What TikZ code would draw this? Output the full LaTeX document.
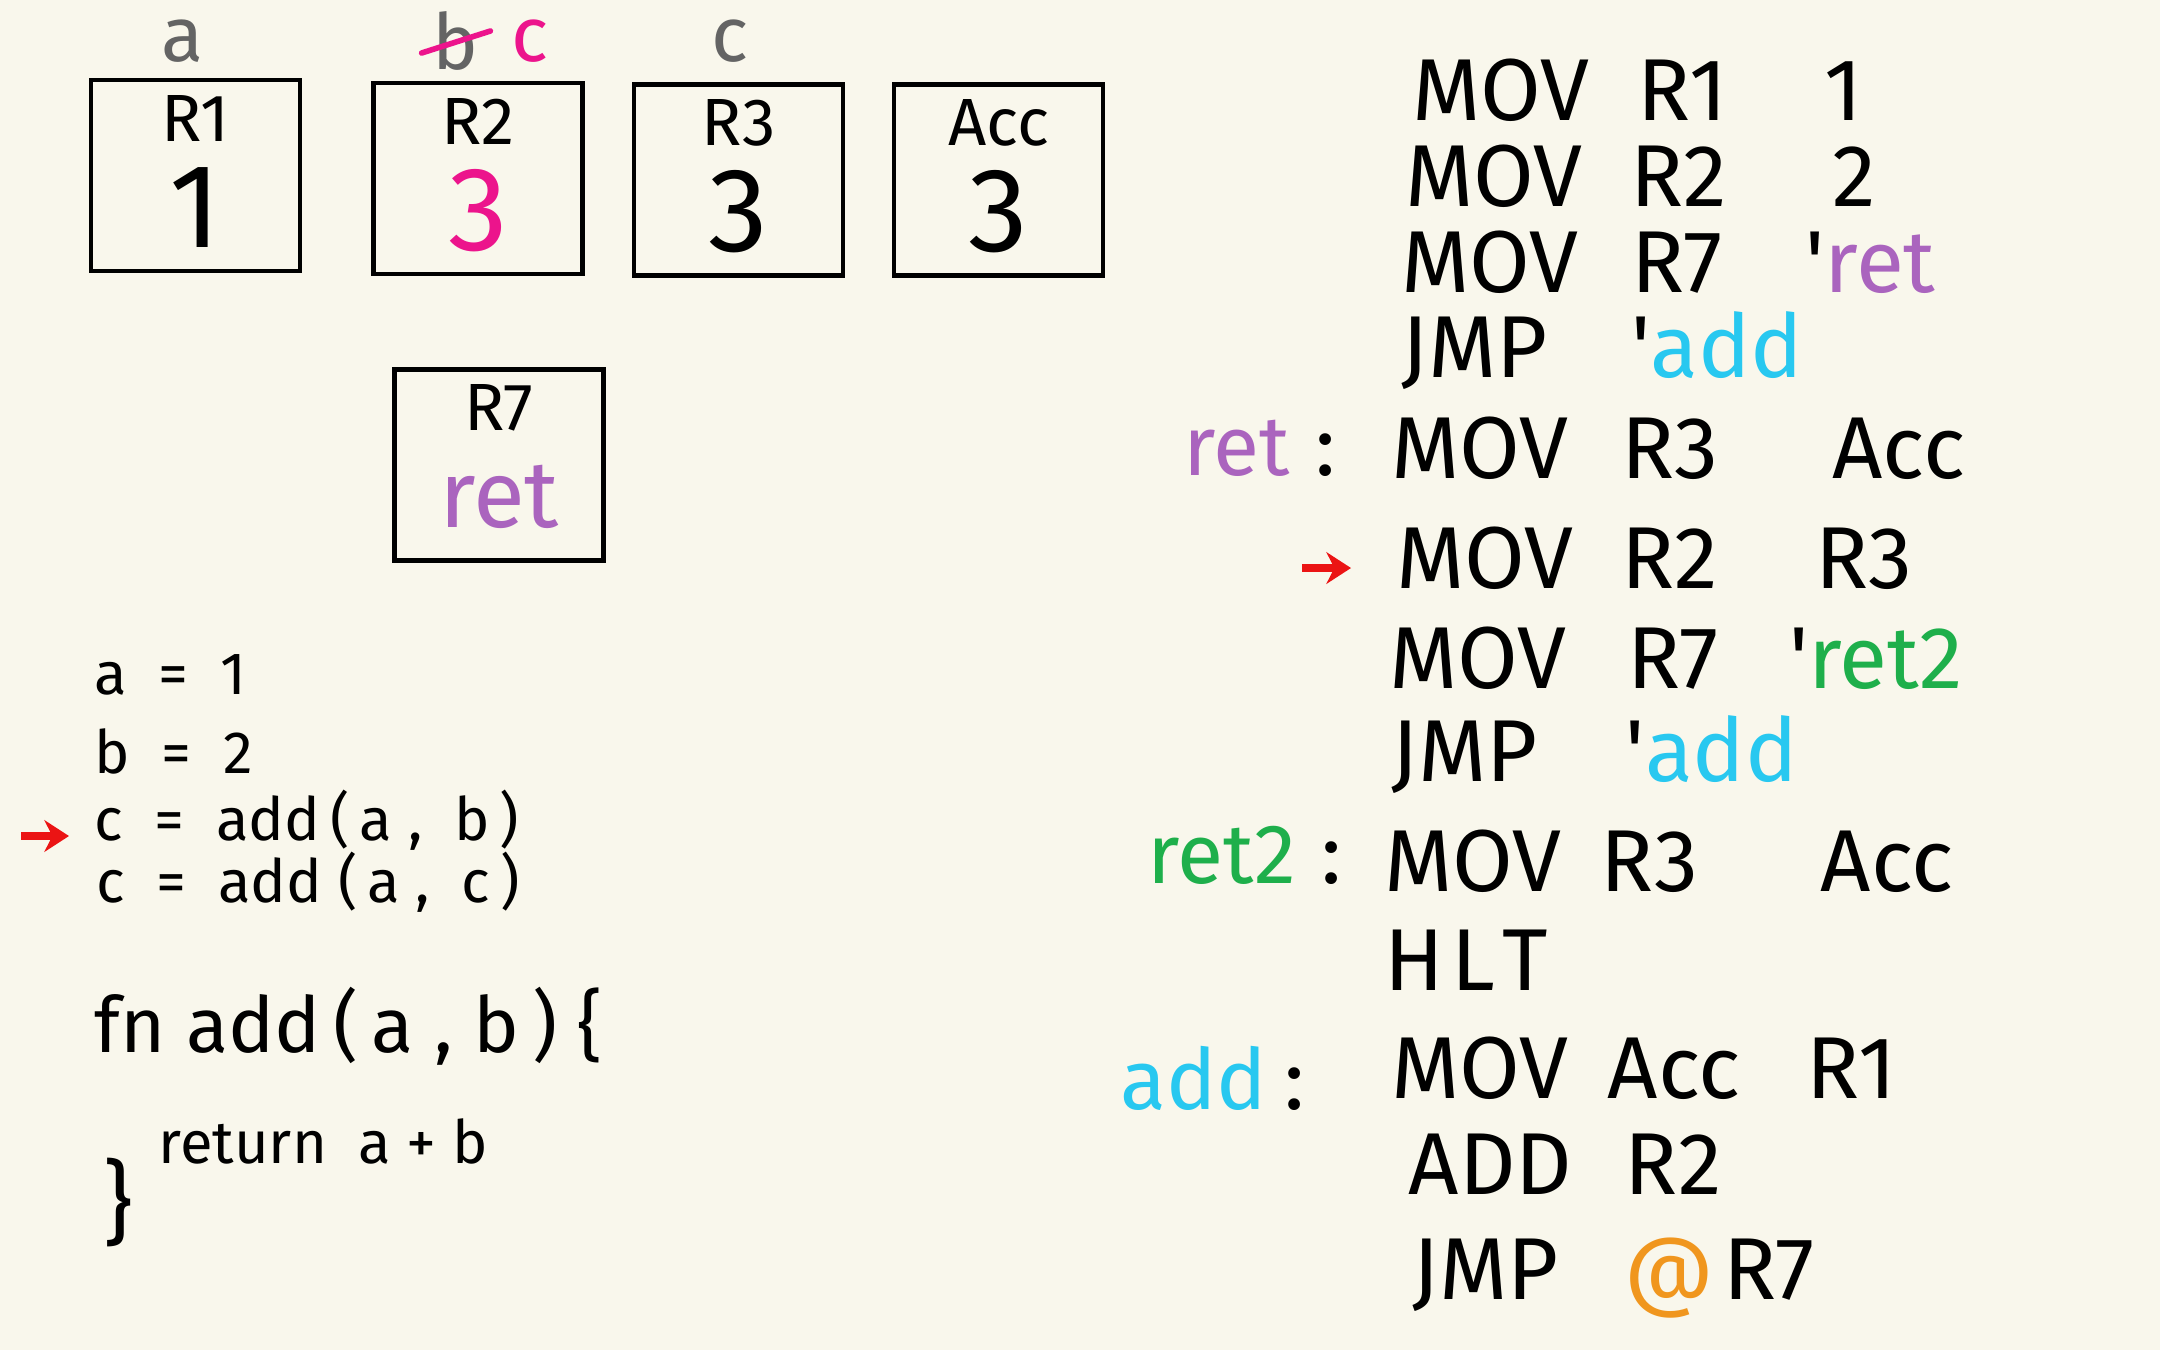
\documentclass[tikz,border=0pt]{standalone}
\usepackage{fontspec}
\setmainfont{Fira Sans}
\usetikzlibrary{positioning,calc,arrows.meta}
\definecolor{paper}{RGB}{249,247,236}
\definecolor{vargrey}{RGB}{100,100,100}
\definecolor{pinkc}{RGB}{236,20,140}
\definecolor{retc}{RGB}{170,100,190}
\definecolor{addc}{RGB}{40,200,240}
\definecolor{rettwoc}{RGB}{30,175,75}
\definecolor{atc}{RGB}{240,150,30}
\definecolor{ptrred}{RGB}{235,20,20}
\newcommand{\tick}{\textquotesingle}

\begin{document}
\begin{tikzpicture}[
  reg/.style={rectangle, draw, line width=1.3pt, minimum width=2.09cm,
    minimum height=1.91cm},
  regname/.style={font=\fontsize{19}{22}\selectfont},
  regval/.style={font=\fontsize{34}{38}\selectfont},
  varname/.style={font=\fontsize{22}{24}\selectfont, text=vargrey},
  code/.style={anchor=west, inner sep=0pt, font=\fontsize{17}{20}\selectfont},
  asm/.style={anchor=west, inner sep=0pt, font=\fontsize{25}{28}\selectfont},
  lbl/.style={anchor=east, inner sep=0pt, font=\fontsize{24}{28}\selectfont},
  ptr/.style={-{Stealth[length=7pt,width=9pt]}, line width=2.2pt, color=ptrred},
  strike/.style={line width=1.6pt, color=pinkc, line cap=round}
]
\fill[paper] (0,0) rectangle (21.6,-13.5);
\useasboundingbox (0,0) rectangle (21.6,-13.5);

% registers
\node[reg] (R1) at (1.955,-1.755) {};
\node[reg] (R2) at (4.78,-1.785) {};
\node[reg] (R3) at (7.385,-1.80) {};
\node[reg] (Acc) at (9.985,-1.80) {};
\node[reg] (R7) at (4.99,-4.65) {};

\node[regname] at ($(R1.north)+(0,-0.41)$) {R1};
\node[regname] at ($(R2.north)+(0,-0.41)$) {R2};
\node[regname] at ($(R3.north)+(0,-0.41)$) {R3};
\node[regname] at ($(Acc.north)+(0,-0.41)$) {Acc};
\node[regname] at ($(R7.north)+(0,-0.41)$) {R7};

\node[regval] at ($(R1.center)+(0,-0.32)$) {1};
\node[regval, text=pinkc] at ($(R2.center)+(0,-0.32)$) {3};
\node[regval] at ($(R3.center)+(0,-0.32)$) {3};
\node[regval] at ($(Acc.center)+(0,-0.32)$) {3};
\node[regval, font=\fontsize{27}{30}\selectfont, text=retc] at ($(R7.center)+(0,-0.32)$) {ret};

% variables
\node[varname] (va) at (1.83,-0.41) {a};
\node[varname] (vb) at (4.55,-0.41) {b};
\node[varname, text=pinkc] (vc) at (5.30,-0.41) {c};
\node[varname] (vcc) at (7.30,-0.41) {c};
\draw[strike] ($(vb.west)+(0.02,-0.12)$) -- ($(vb.east)+(0,0.1)$);

% source
\node[code] (la) at (0.94,-6.75) {a\ \ =\ \ 1};
\node[code] (lb) at (0.94,-7.51) {b\ \ =\ \ 2};
\node[code] (call1) at (0.94,-8.20) {c\ \ =\ \ add\,(\,a\ ,\ \ b\,)};
\node[code] (call2) at (0.96,-8.82) {c\ \ =\ \ add\ (\,a\ ,\ \ c\,)};
\node[code, font=\fontsize{22}{24}\selectfont] (fn) at (0.94,-10.26) {fn\ add\,(\,a\ ,\ b\,)\ \{};
\node[code] (body) at (1.58,-11.41) {return\ \ a\ +\ b};
\node[code, font=\fontsize{26}{28}\selectfont] (close) at (1.03,-12.02) {\}};

\coordinate (p1) at (0.21,-8.36);
\draw[ptr] (p1) -- ($(p1 -| call1.west)+(-0.25,0)$);

% program
\node[asm] (m1) at (14.12,-0.90) {MOV\hspace{0.55em}R1\hspace{1.1em}1};
\node[asm] (m2) at (14.05,-1.76) {MOV\hspace{0.55em}R2\hspace{1.2em}2};
\node[asm] (m3) at (14.01,-2.62) {MOV\hspace{0.6em}R7\hspace{0.95em}\tick\textcolor{retc}{ret}};
\node[asm] (m4) at (14.01,-3.51) {JMP\hspace{0.95em}\tick\textcolor{addc}{add}};
\node[asm] (m5) at (13.91,-4.48) {MOV\hspace{0.6em}R3\hspace{1.3em}Acc};
\node[asm] (m6) at (13.96,-5.58) {MOV\hspace{0.55em}R2\hspace{1.1em}R3};
\node[asm] (m7) at (13.89,-6.58) {MOV\hspace{0.7em}R7\hspace{0.8em}\tick\textcolor{rettwoc}{ret2}};
\node[asm] (m8) at (13.91,-7.55) {JMP\hspace{1.0em}\tick\textcolor{addc}{add}};
\node[asm] (m9) at (13.84,-8.61) {MOV\hspace{0.45em}R3\hspace{1.4em}Acc};
\node[asm] (m10) at (13.84,-9.60) {H\hspace{0.08em}L\hspace{0.08em}T};
\node[asm] (m11) at (13.91,-10.68) {MOV\hspace{0.45em}Acc\hspace{0.75em}R1};
\node[asm] (m12) at (14.08,-11.64) {ADD\hspace{0.6em}R2};
\node[asm] (m13) at (14.12,-12.78) {JMP\hspace{0.75em}\textcolor{atc}{@}\hspace{0.1em}R7};

\node[lbl] (lret) at (13.36,-4.48) {\textcolor{retc}{ret}\hspace{0.3em}:};
\node[lbl] (lrettwo) at (13.42,-8.55) {\textcolor{rettwoc}{ret2}\hspace{0.3em}:};
\node[lbl] (ladd) at (13.05,-10.78) {\textcolor{addc}{add}\hspace{0.2em}:};

\coordinate (p2) at (13.02,-5.68);
\draw[ptr] (p2) -- ($(p2 -| m6.west)+(-0.45,0)$);
\end{tikzpicture}
\end{document}
